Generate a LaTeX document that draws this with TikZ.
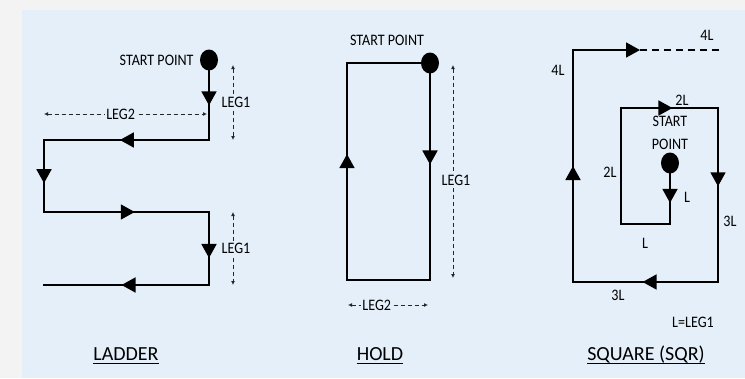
\documentclass[tikz,border=0pt]{standalone}
\usepackage{fontspec}
\setmainfont{Carlito}
\newfontfamily\lblfont[FakeStretch=0.88]{Carlito}
\usepackage{tikz}
\usetikzlibrary{positioning, arrows.meta, shapes.geometric, decorations.markings}
\usepackage{xcolor}
\definecolor{panel}{HTML}{E5EFF9}
\definecolor{outerbg}{HTML}{F3F3F3}

\begin{document}
\begin{tikzpicture}[
        x=1pt, y=-1pt,
        course/.style={
            line width=1.8pt,
            line cap=rect
        },
        flow/.style={
            postaction={decorate},
            decoration={
                markings,
                mark=at position #1 with {\arrow{Triangle[length=14pt,width=15pt]}}
            }
        },
        dot/.style={
            ellipse,
            fill,
            inner sep=0pt,
            minimum width=18pt,
            minimum height=21pt
        },
        dim/.style={
            {Latex[length=4pt,width=4pt]}-{Latex[length=4pt,width=4pt]},
            line width=0.9pt,
            dash pattern=on 4pt off 3pt,
            black!85
        },
        lbl/.style={
            font=\lblfont\fontsize{16}{23}\selectfont,
            inner sep=1pt
        },
        dimlbl/.style={
            lbl,
            fill=panel,
            text=black
        },
        title/.style={
            font=\fontsize{20}{24}\selectfont,
            anchor=base,
            inner sep=0pt
        },
        uline/.style={
            line width=1.4pt
        }
    ]

        % Tło
        \useasboundingbox (0,0) rectangle (745,378);
        \fill[outerbg] (0,0) rectangle (745,378);
        \fill[panel] (22,10) rectangle (745,378);

        % Ladder
        \node[dot] (ldot) at (209,60) {};
        \node[lbl, left=5pt of ldot] (lstart) {START POINT};
        \coordinate (l1) at (209,140);
        \coordinate (l2) at (44,140);
        \coordinate (l3) at (44,212);
        \coordinate (l4) at (209,212);
        \coordinate (l5) at (209,285);
        \coordinate (l6) at (44,285);

        \draw[course, flow=0.5] (ldot) -- (l1);
        \draw[course, flow=0.54] (l1) -- (l2);
        \draw[course, flow=0.6] (l2) -- (l3);
        \draw[course, flow=0.55] (l3) -- (l4);
        \draw[course, flow=0.63] (l4) -- (l5);
        \draw[course, flow=0.53] (l5) -- (l6);

        % Ladder: wymiary
        \coordinate (lleg1a) at (233,65);
        \coordinate (lleg1b) at (233,140);
        \coordinate (lleg1c) at (233,212);
        \coordinate (lleg1d) at (233,285);
        \coordinate (lleg2a) at (44,114);
        \coordinate (lleg2b) at (207,114);
        \draw[dim] (lleg1a) -- node[dimlbl, xshift=3pt] {LEG1} (lleg1b);
        \draw[dim] (lleg1c) -- node[dimlbl, xshift=3pt] {LEG1} (lleg1d);
        \draw[dim] (lleg2a) -- node[dimlbl, pos=0.47] {LEG2} (lleg2b);

        \node[title] (ladder) at (126,360) {LADDER};

        % Hold
        \node[dot] (hdot) at (430,63) {};
        \node[lbl] (hstart) at (387,40) {START POINT};
        \coordinate (h1) at (430,280);
        \coordinate (h2) at (347,280);
        \coordinate (h3) at (347,63);

        \draw[course, flow=0.44] (hdot) -- (h1);
        \draw[course] (h1) -- (h2);
        \draw[course, flow=0.58] (h2) -- (h3);
        \draw[course] (h3) -- (hdot);

        % Hold: wymiary
        \coordinate (hleg1a) at (453,65);
        \coordinate (hleg1b) at (453,278);
        \coordinate (hleg2a) at (348,305);
        \coordinate (hleg2b) at (428,305);
        \draw[dim] (hleg1a) -- node[dimlbl, pos=0.54, xshift=3pt] {LEG1} (hleg1b);
        \draw[dim] (hleg2a) -- node[dimlbl, pos=0.36] {LEG2} (hleg2b);

        \node[title] (hold) at (380,360) {HOLD};

        % Square
        \node[dot] (sdot) at (670,163) {};
        \node[lbl, align=center, above=1pt of sdot] (sstart) {START\\POINT};
        \coordinate (s1) at (670,224);
        \coordinate (s2) at (621,224);
        \coordinate (s3) at (621,108);
        \coordinate (s4) at (718,108);
        \coordinate (s5) at (718,282);
        \coordinate (s6) at (573,282);
        \coordinate (s7) at (573,50);
        \coordinate (s8) at (640,50);
        \coordinate (s9) at (720,50);

        \draw[course, flow=0.58] (sdot) -- (s1);
        \draw[course] (s1) -- (s2);
        \draw[course] (s2) -- (s3);
        \draw[course, flow=0.53] (s3) -- (s4);
        \draw[course, flow=0.45] (s4) -- (s5);
        \draw[course, flow=0.52] (s5) -- (s6);
        \draw[course, flow=0.5] (s6) -- (s7);
        \draw[course, -{Triangle[length=14pt,width=15pt]}] (s7) -- (s8);
        \draw[line width=1.8pt, dash pattern=on 7pt off 5pt] (s8) -- (s9);

        % Square: opisy odcinków
        \node[lbl] (sl1) at (687,197) {L};
        \node[lbl] (sl2) at (645,243) {L};
        \node[lbl] (sl3) at (610,172) {2L};
        \node[lbl] (sl4) at (682,100) {2L};
        \node[lbl] (sl5) at (730,221) {3L};
        \node[lbl] (sl6) at (618,295) {3L};
        \node[lbl] (sl7) at (558,70) {4L};
        \node[lbl] (sl8) at (707,35) {4L};
        \node[lbl] (slegend) at (693,322) {L=LEG1};

        \node[title] (square) at (646,360) {SQUARE (SQR)};

        % Podkreślenia tytułów
        \draw[uline] ([yshift=-3.5pt]ladder.base west) -- ([yshift=-3.5pt]ladder.base east);
        \draw[uline] ([yshift=-3.5pt]hold.base west) -- ([yshift=-3.5pt]hold.base east);
        \draw[uline] ([yshift=-3.5pt]square.base west) -- ([yshift=-3.5pt]square.base east);

    \end{tikzpicture}
\end{document}
